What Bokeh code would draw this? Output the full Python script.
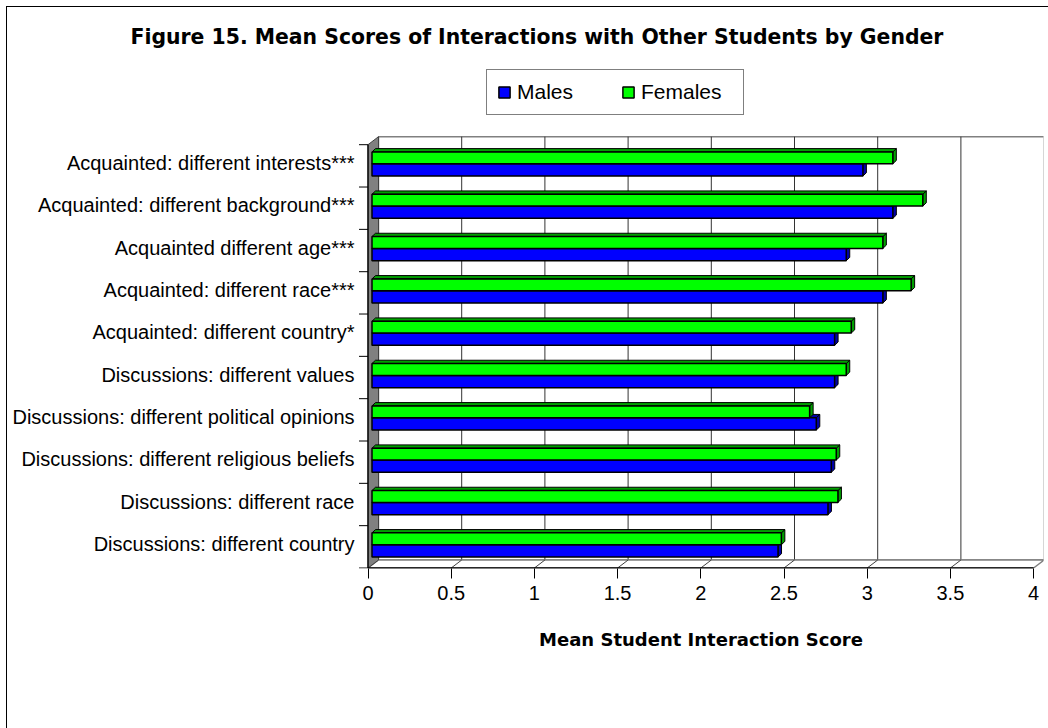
from bokeh.plotting import figure
from bokeh.models import (Range1d, FixedTicker, Legend, LegendItem, LinearAxis,
                          InlineStyleSheet, Grid)
from bokeh.embed import file_html
from bokeh.resources import INLINE

# ---------------- data ----------------
categories = [
    "Acquainted: different interests***",
    "Acquainted: different background***",
    "Acquainted different age***",
    "Acquainted: different race***",
    "Acquainted: different country*",
    "Discussions: different values",
    "Discussions: different political opinions",
    "Discussions: different religious beliefs",
    "Discussions: different race",
    "Discussions: different country",
]
males = [2.95, 3.13, 2.85, 3.07, 2.78, 2.78, 2.67, 2.76, 2.74, 2.44]
females = [3.13, 3.31, 3.07, 3.24, 2.88, 2.85, 2.63, 2.79, 2.80, 2.46]
series_names = ["Males", "Females"]
x_ticks = [0, 0.5, 1, 1.5, 2, 2.5, 3, 3.5, 4]
x_tick_labels = ["0", "0.5", "1", "1.5", "2", "2.5", "3", "3.5", "4"]
title_text = "Figure 15. Mean Scores of Interactions with Other Students by Gender"
x_title = "Mean Student Interaction Score"

# ---------------- geometry / style ----------------
W, H = 1048, 728
FL, FR, FT, FB = 358, 1043, 60, 568          # frame edges (px)
X0PX, Y0PX = 367.5, 567.5                    # pixel of data (0, 0)
PXX, PXY = 166.4, 42.33                      # px per data unit
DX, DY = 10.5 / PXX, 8 / PXY                 # 3-D depth offset
BDX, BDY = 3.5 / PXX, 3.3 / PXY              # bar depth offset
BAR_X0 = 4 / PXX
BLUE, GREEN = "#0000FF", "#00FF00"
BLUE_SIDE, GREEN_SIDE = "#0000A8", "#00A000"
FONT = "Liberation Sans"

n = len(categories)
xmax = x_ticks[-1]

p = figure(
    width=W, height=H,
    x_range=Range1d((FL - X0PX) / PXX, (FR - X0PX) / PXX),
    y_range=Range1d((Y0PX - FB) / PXY, (Y0PX - FT) / PXY),
    min_border_left=FL, min_border_right=W - FR,
    min_border_top=FT, min_border_bottom=H - FB,
    x_axis_location=None, y_axis_location=None,
    output_backend="svg", toolbar_location=None,
    title=title_text,
)
p.center = [c for c in p.center if not isinstance(c, Grid)]
p.styles = {"position": "absolute", "left": "0px", "top": "0px"}
p.stylesheets = [InlineStyleSheet(css=(
    ":host::after { content: ''; position: absolute; left: 6px; top: 6px; "
    "right: 0px; bottom: 0px; border-left: 1px solid #000; border-top: 1px solid #000; "
    "pointer-events: none; }"))]
p.outline_line_color = None
p.background_fill_color = "white"
p.border_fill_color = "white"

p.title.align = "left"
p.title.offset = 130 - FL
p.title.standoff = 23
p.title.text_font = "DejaVu Sans"
p.title.text_font_style = "bold"
p.title.text_font_size = "20.4px"
p.title.text_color = "black"

# ---------------- axes ----------------
xaxis = LinearAxis(ticker=FixedTicker(ticks=x_ticks))
xaxis.major_label_overrides = {t: s for t, s in zip(x_ticks, x_tick_labels)}
xaxis.axis_line_color = None
xaxis.major_tick_in = 0
xaxis.major_tick_out = 10
xaxis.major_tick_line_color = "black"
xaxis.minor_tick_line_color = None
xaxis.major_label_standoff = 7
xaxis.major_label_text_font = FONT
xaxis.major_label_text_font_size = "20px"
xaxis.major_label_text_color = "black"
xaxis.axis_label = x_title
xaxis.axis_label_text_font = "DejaVu Sans"
xaxis.axis_label_text_font_style = "bold"
xaxis.axis_label_text_font_size = "18px"
xaxis.axis_label_text_color = "black"
xaxis.axis_label_standoff = 26
p.add_layout(xaxis, "below")

label_pos = [n - 1 - i + 0.57 for i in range(n)]
yaxis = LinearAxis(ticker=FixedTicker(ticks=label_pos))
yaxis.major_label_overrides = {pos: c for pos, c in zip(label_pos, categories)}
yaxis.axis_line_color = None
yaxis.major_tick_line_color = None
yaxis.minor_tick_line_color = None
yaxis.major_tick_in = 0
yaxis.major_tick_out = 0
yaxis.major_label_standoff = 4
yaxis.major_label_text_font = FONT
yaxis.major_label_text_font_size = "20px"
yaxis.major_label_text_color = "black"
p.add_layout(yaxis, "left")

# ---------------- 3-D walls ----------------
inner = x_ticks[1:-1]
p.quad(left=DX, right=xmax + DX, bottom=DY, top=n + DY,
       fill_color="white", line_color="#808080", line_width=1.5)
p.segment(x0=[t + DX for t in inner], y0=[DY] * len(inner),
          x1=[t + DX for t in inner], y1=[n + DY] * len(inner),
          line_color="#333333", line_width=1)
p.patch([0, xmax, xmax + DX, DX], [0, 0, DY, DY],
        fill_color="white", line_color="#808080", line_width=1.5)
p.segment(x0=inner, y0=[0] * len(inner),
          x1=[t + DX for t in inner], y1=[DY] * len(inner),
          line_color="#404040", line_width=1)
p.patch([0, DX, DX, 0], [0, DY, n + DY, n],
        fill_color="#808080", line_color="#404040", line_width=1)
# front axis lines and category tick marks
p.segment(x0=[0, 0], y0=[0, 0], x1=[0, xmax], y1=[n, 0],
          line_color="black", line_width=1.3)
p.segment(x0=[-9 / PXX] * (n + 1), y0=list(range(n + 1)),
          x1=[0] * (n + 1), y1=list(range(n + 1)),
          line_color="black", line_width=1)

# ---------------- bars ----------------
ybase = [n - 1 - i for i in range(n)]


def bar3d(values, lo, hi, face, side):
    bottoms = [y + lo for y in ybase]
    tops = [y + hi for y in ybase]
    rights = [BAR_X0 + v for v in values]
    side_xs = [[r, r + BDX, r + BDX, r] for r in rights]
    side_ys = [[b, b + BDY, t + BDY, t] for b, t in zip(bottoms, tops)]
    top_xs = [[BAR_X0, r, r + BDX, BAR_X0 + BDX] for r in rights]
    top_ys = [[t, t, t + BDY, t + BDY] for t in tops]
    p.patches(side_xs, side_ys, fill_color=side, line_color="black", line_width=1)
    p.patches(top_xs, top_ys, fill_color=side, line_color="black", line_width=1)
    return p.quad(left=[BAR_X0] * n, right=rights, bottom=bottoms, top=tops,
                  fill_color=face, line_color="black", line_width=1.5)


r_m = bar3d(males, 0.26, 0.55, BLUE, BLUE_SIDE)
r_f = bar3d(females, 0.55, 0.83, GREEN, GREEN_SIDE)

legend = Legend(
    items=[LegendItem(label=series_names[0], renderers=[r_m]),
           LegendItem(label=series_names[1], renderers=[r_f])],
    orientation="horizontal",
    location=(486 - FL, FB - 115),
    padding=10, spacing=12, label_width=92, margin=0,
    glyph_width=14, glyph_height=14, label_standoff=6,
    border_line_color="black", border_line_width=1,
    background_fill_color="white", background_fill_alpha=1,
    label_text_font=FONT, label_text_font_size="21px", label_text_color="black",
)
p.add_layout(legend, "center")

open("out.html", "w").write(file_html(p, INLINE))
